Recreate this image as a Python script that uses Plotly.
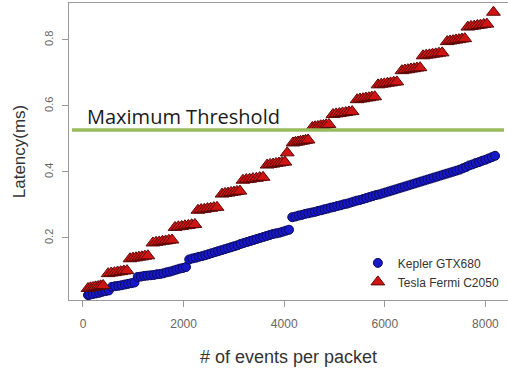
import plotly.graph_objects as go

# ---- data ----
kepler_x = [100, 128, 192, 256, 320, 384, 448, 512, 576, 640, 704, 768, 832, 896, 960, 1024,
            1088, 1152, 1216, 1280, 1344, 1408, 1472, 1536, 1600, 1664, 1728, 1792, 1856, 1920, 1984, 2048,
            2112, 2176, 2240, 2304, 2368, 2432, 2496, 2560, 2624, 2688, 2752, 2816, 2880, 2944, 3008, 3072,
            3136, 3200, 3264, 3328, 3392, 3456, 3520, 3584, 3648, 3712, 3776, 3840, 3904, 3968, 4032, 4096,
            4160, 4224, 4288, 4352, 4416, 4480, 4544, 4608, 4672, 4736, 4800, 4864, 4928, 4992, 5056, 5120,
            5184, 5248, 5312, 5376, 5440, 5504, 5568, 5632, 5696, 5760, 5824, 5888, 5952, 6016, 6080, 6144,
            6208, 6272, 6336, 6400, 6464, 6528, 6592, 6656, 6720, 6784, 6848, 6912, 6976, 7040, 7104, 7168,
            7232, 7296, 7360, 7424, 7488, 7552, 7616, 7680, 7744, 7808, 7872, 7936, 8000, 8064, 8128, 8192]
kepler_y = [0.027, 0.028, 0.030, 0.032, 0.034, 0.037, 0.039, 0.041, 0.052, 0.054, 0.055, 0.057, 0.059, 0.061, 0.063, 0.065,
            0.082, 0.083, 0.085, 0.086, 0.087, 0.088, 0.090, 0.091, 0.093, 0.096, 0.098, 0.101, 0.104, 0.107, 0.109, 0.112,
            0.135, 0.138, 0.140, 0.143, 0.145, 0.148, 0.151, 0.154, 0.157, 0.160, 0.163, 0.166, 0.169, 0.172, 0.175, 0.178,
            0.182, 0.185, 0.188, 0.191, 0.194, 0.197, 0.200, 0.203, 0.206, 0.209, 0.212, 0.214, 0.216, 0.219, 0.222, 0.225,
            0.263, 0.265, 0.268, 0.270, 0.273, 0.275, 0.277, 0.279, 0.282, 0.284, 0.287, 0.289, 0.292, 0.294, 0.297, 0.299,
            0.302, 0.304, 0.307, 0.310, 0.313, 0.315, 0.318, 0.321, 0.324, 0.327, 0.330, 0.332, 0.335, 0.338, 0.341, 0.344,
            0.347, 0.350, 0.353, 0.356, 0.359, 0.362, 0.365, 0.368, 0.371, 0.374, 0.377, 0.380, 0.383, 0.386, 0.389, 0.392,
            0.395, 0.398, 0.401, 0.404, 0.407, 0.411, 0.415, 0.420, 0.423, 0.427, 0.430, 0.434, 0.437, 0.441, 0.445, 0.449]

fermi_x = [100, 150, 200, 250, 300, 350, 400,
           500, 562, 625, 688, 750, 812, 875,
           935, 994, 1053, 1112, 1171, 1230, 1290,
           1390, 1453, 1516, 1580, 1643, 1706, 1770,
           1830, 1896, 1962, 2028, 2094, 2160, 2225,
           2285, 2348, 2411, 2475, 2538, 2601, 2665,
           2765, 2824, 2883, 2942, 3001, 3060, 3120,
           3180, 3247, 3313, 3380, 3447, 3513, 3580,
           3660, 3719, 3778, 3837, 3896, 3955, 4015,
           4060,
           4175, 4225, 4275, 4325, 4375, 4425, 4475,
           4560, 4615, 4670, 4725, 4780, 4835, 4890,
           4970, 5033, 5097, 5160, 5223, 5287, 5350,
           5450, 5508, 5567, 5625, 5683, 5742, 5800,
           5865, 5928, 5990, 6053, 6115, 6178, 6240,
           6340, 6400, 6460, 6520, 6580, 6640, 6700,
           6760, 6823, 6887, 6950, 7013, 7077, 7140,
           7240, 7298, 7357, 7415, 7473, 7532, 7590,
           7650, 7713, 7777, 7840, 7903, 7967, 8030,
           8160]
fermi_y = [0.047, 0.049, 0.050, 0.052, 0.053, 0.055, 0.056,
           0.092, 0.094, 0.095, 0.097, 0.098, 0.100, 0.101,
           0.137, 0.139, 0.140, 0.142, 0.143, 0.145, 0.146,
           0.185, 0.187, 0.188, 0.190, 0.191, 0.193, 0.194,
           0.232, 0.234, 0.235, 0.237, 0.238, 0.240, 0.241,
           0.284, 0.286, 0.287, 0.289, 0.290, 0.292, 0.293,
           0.333, 0.335, 0.336, 0.338, 0.339, 0.341, 0.342,
           0.375, 0.377, 0.378, 0.380, 0.381, 0.383, 0.384,
           0.421, 0.423, 0.424, 0.426, 0.427, 0.429, 0.430,
           0.458,
           0.488, 0.490, 0.491, 0.493, 0.494, 0.496, 0.497,
           0.535, 0.537, 0.538, 0.540, 0.541, 0.543, 0.544,
           0.574, 0.576, 0.577, 0.579, 0.580, 0.582, 0.583,
           0.619, 0.621, 0.622, 0.624, 0.625, 0.627, 0.628,
           0.664, 0.666, 0.667, 0.669, 0.670, 0.672, 0.673,
           0.707, 0.709, 0.710, 0.712, 0.713, 0.715, 0.716,
           0.752, 0.754, 0.755, 0.757, 0.758, 0.760, 0.761,
           0.795, 0.797, 0.798, 0.800, 0.801, 0.803, 0.804,
           0.839, 0.841, 0.842, 0.844, 0.845, 0.847, 0.848,
           0.884]

threshold = 0.527
threshold_label = "Maximum Threshold"
x_ticks = [0, 2000, 4000, 6000, 8000]
y_ticks = [0.2, 0.4, 0.6, 0.8]

FONT = "Liberation Sans, Arial, sans-serif"
AXIS_GREY = "#9a9a9a"

fig = go.Figure()
fig.add_trace(go.Scatter(
    x=kepler_x, y=kepler_y, mode="markers", name="Kepler GTX680",
    marker=dict(symbol="circle", size=9, color="#1818c8",
                line=dict(color="#0a0a5a", width=1)),
))
fig.add_trace(go.Scatter(
    x=fermi_x, y=fermi_y, mode="markers", name="Tesla Fermi C2050",
    marker=dict(symbol="triangle-up", size=12, color="#d01414",
                line=dict(color="#5a0808", width=1)),
))

fig.add_shape(type="line", xref="x", yref="y", x0=-220, x1=8370,
              y0=threshold, y1=threshold,
              line=dict(color="#98bb5c", width=3.5), layer="above")
fig.add_annotation(x=40, y=threshold, xref="x", yref="y", text=threshold_label,
                   showarrow=False, xanchor="left", yanchor="bottom", yshift=-2,
                   font=dict(family="Open Sans, Liberation Sans, sans-serif",
                             size=20, color="#1a1a1a"))

fig.update_layout(
    width=508, height=369, autosize=False,
    margin=dict(l=69, r=0, t=3, b=69, autoexpand=False),
    paper_bgcolor="white", plot_bgcolor="white",
    font=dict(family=FONT, color="#333333"),
    showlegend=True,
    legend=dict(x=0.658, y=0.093, xanchor="left", yanchor="middle",
                bgcolor="rgba(0,0,0,0)", borderwidth=0,
                font=dict(family=FONT, size=12, color="#333333"),
                itemwidth=30, tracegroupgap=0),
    xaxis=dict(range=[-278, 8449], tickvals=x_ticks,
               ticktext=[str(v) for v in x_ticks],
               showgrid=False, zeroline=False, automargin=False,
               showline=True, linecolor=AXIS_GREY, linewidth=1.2, mirror=True,
               ticks="outside", ticklen=6, tickcolor=AXIS_GREY, tickwidth=1,
               tickfont=dict(family=FONT, size=12, color="#666666"),
               ticklabelstandoff=6,
               title=dict(text="# of events per packet", standoff=20,
                          font=dict(family=FONT, size=18, color="#333333"))),
    yaxis=dict(range=[0.0121, 0.912], tickvals=y_ticks,
               ticktext=[str(v) for v in y_ticks],
               showgrid=False, zeroline=False, automargin=False,
               showline=True, linecolor=AXIS_GREY, linewidth=1.2, mirror=False,
               ticks="outside", ticklen=6, tickcolor=AXIS_GREY, tickwidth=1,
               tickangle=-90,
               tickfont=dict(family=FONT, size=11, color="#666666"),
               ticklabelstandoff=5,
               title=dict(text="Latency(ms)", standoff=12,
                          font=dict(family=FONT, size=17, color="#333333"))),
)

fig.write_html("out.html",
               config={"displayModeBar": False, "responsive": False},
               post_script=("document.body.style.margin='0';"
                            "document.body.style.overflow='hidden';"
                            "document.documentElement.style.overflow='hidden';"))
